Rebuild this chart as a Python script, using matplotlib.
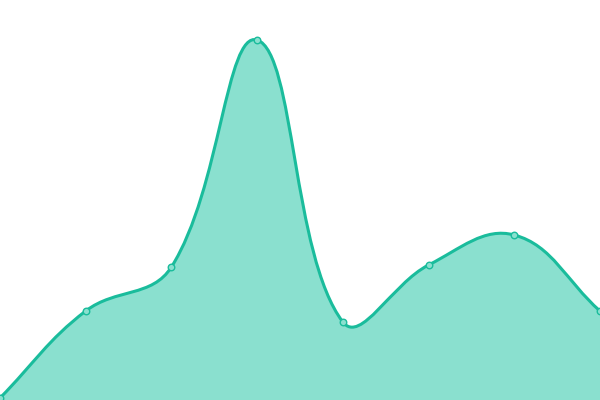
import numpy as np
import matplotlib
matplotlib.use("Agg")
import matplotlib.pyplot as plt
from matplotlib.path import Path
from matplotlib.patches import PathPatch

values = [2, 89, 133, 360, 78, 135, 165, 89]
labels = ["A", "B", "C", "D", "E", "F", "G", "H"]

line_color = "#1abc9c"
fill_color = "#8ae0cf"
tension = 0.4

fig = plt.figure(figsize=(6, 4), dpi=100)
ax = fig.add_axes([0, 0, 1, 1])
ax.set_xlim(0, len(values) - 1)
ax.set_ylim(0, 400)
ax.axis("off")

# pixel-space points for spline control computation
xs = np.arange(len(values)) * 600 / (len(values) - 1)
ys = np.array(values, dtype=float)
pts = np.column_stack([xs, ys])

ctrl_prev = []
ctrl_next = []
n = len(pts)
for i in range(n):
    p0 = pts[i - 1] if i > 0 else pts[i]
    p1 = pts[i]
    p2 = pts[i + 1] if i < n - 1 else pts[i]
    d01 = np.hypot(*(p1 - p0))
    d12 = np.hypot(*(p2 - p1))
    tot = d01 + d12
    s01 = d01 / tot if tot else 0
    s12 = d12 / tot if tot else 0
    ctrl_prev.append(p1 - tension * s01 * (p2 - p0))
    ctrl_next.append(p1 + tension * s12 * (p2 - p0))

verts = [pts[0]]
codes = [Path.MOVETO]
for i in range(n - 1):
    verts += [ctrl_next[i], ctrl_prev[i + 1], pts[i + 1]]
    codes += [Path.CURVE4] * 3

sx = (len(values) - 1) / 600.0
verts = np.array(verts)
verts[:, 0] *= sx
verts[:, 1] = np.clip(verts[:, 1], 0, 400)

line_path = Path(verts, codes)
fill_verts = np.vstack([verts, [[verts[-1, 0], 0], [verts[0, 0], 0], verts[0]]])
fill_codes = codes + [Path.LINETO, Path.LINETO, Path.CLOSEPOLY]
ax.add_patch(PathPatch(Path(fill_verts, fill_codes), facecolor=fill_color, edgecolor="none"))
ax.add_patch(PathPatch(line_path, facecolor="none", edgecolor=line_color, lw=2.2, capstyle="round"))

ax.scatter(np.arange(len(values)), values, s=22, facecolor=fill_color,
           edgecolor=line_color, linewidths=1, zorder=5, clip_on=False)

fig.savefig("out.png", dpi=100)
